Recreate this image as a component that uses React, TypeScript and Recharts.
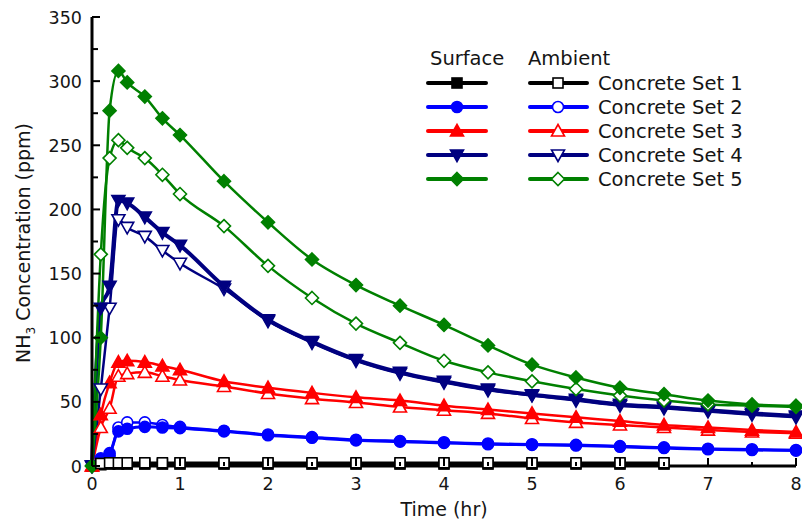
import React from "react";
import { LineChart, Line, XAxis, YAxis } from "recharts";

if (typeof document !== "undefined") document.body.style.margin = "0";

// sampling times (hr)
const time = [0, 0.1, 0.2, 0.3, 0.4, 0.6, 0.8, 1, 1.5, 2, 2.5, 3, 3.5, 4, 4.5, 5, 5.5, 6, 6.5, 7, 7.5, 8];

// NH3 ppm, surface (filled) and ambient (open)
const set1Surface = [0, 1, 1.5, 1.5, 1.5, 1.5, 1.5, 1.5, 1.5, 1.5, 1.5, 1.5, 1.5, 1.5, 1.5, 1.5, 1.5, 1.5, 1.5, null, null, null];
const set1Ambient = [null, 2, 2.5, 2.5, 2.5, 2.5, 2.5, 2.5, 2.5, 2.5, 2.5, 2.5, 2.5, 2.5, 2.5, 2.5, 2.5, 2.5, 2.5, null, null, null];
const set2Surface = [0, 6, 10, 27, 29, 30.5, 30, 29.5, 27, 24, 22, 20, 19, 18, 17, 16.5, 16, 15, 14, 13, 12.5, 12];
const set2Ambient = [0, 3, 8, 30, 34, 34, 32, 30.5, 27.5, 24.5, 22.5, 20.5, 19.5, 18.5, 17.5, 17, 16.5, 15.5, 14.5, 13.5, 13, 12.5];
const set3Surface = [0, 40, 65, 81, 82, 81, 78, 75, 66, 61, 57, 53.5, 51, 47, 44, 41, 38, 35, 32, 30, 28, 26.5];
const set3Ambient = [0, 30, 45, 70, 72, 73, 70, 67, 62, 56.5, 52.5, 49.5, 46, 43.5, 41, 37, 34, 32, 30, 28, 26.5, 25.5];
const set4Surface = [0, 123, 140, 207, 205, 194, 182, 172, 140, 114, 97, 83, 73, 66, 60, 55.5, 52, 48, 46, 43.5, 41, 39];
const set4Ambient = [0, 60, 123, 192, 186, 179, 168, 158, 138, 113, 96, 82, 72, 65, 59, 55, 51, 47, 45, 42.5, 40, 38];
const set5Surface = [0, 100, 277, 308, 299, 288, 271, 258, 222, 190, 161, 141, 125, 110, 94, 79, 69, 61, 56, 51, 48, 47];
const set5Ambient = [0, 165, 240, 254, 248, 240, 227, 212, 187, 156, 131, 111, 96, 82, 73, 66, 60, 55, 51, 48, 47, 46];

const xTicks = [0, 0.5, 1, 1.5, 2, 2.5, 3, 3.5, 4, 4.5, 5, 5.5, 6, 6.5, 7, 7.5, 8];
const yTicks = [0, 25, 50, 75, 100, 125, 150, 175, 200, 225, 250, 275, 300, 325, 350];
const setNames = ["Concrete Set 1", "Concrete Set 2", "Concrete Set 3", "Concrete Set 4", "Concrete Set 5"];

const data = time.map((t, i) => ({
  t,
  s1: set1Surface[i], a1: set1Ambient[i],
  s2: set2Surface[i], a2: set2Ambient[i],
  s3: set3Surface[i], a3: set3Ambient[i],
  s4: set4Surface[i], a4: set4Ambient[i],
  s5: set5Surface[i], a5: set5Ambient[i],
}));

type Shape = "square" | "circle" | "up" | "down" | "diamond";

const sets: { color: string; shape: Shape; width: number }[] = [
  { color: "#000000", shape: "square", width: 3 },
  { color: "#0000ff", shape: "circle", width: 3 },
  { color: "#ff0000", shape: "up", width: 2.5 },
  { color: "#000080", shape: "down", width: 4 },
  { color: "#008000", shape: "diamond", width: 2.5 },
];

const FONT = "'DejaVu Sans', Arial, sans-serif";
const TEXT = "#151515";

function Marker({ cx, cy, shape, color, filled }: { cx: number; cy: number; shape: Shape; color: string; filled: boolean }) {
  const fill = filled ? color : "#ffffff";
  const sw = 1.6;
  if (shape === "square") return <rect x={cx - 5} y={cy - 5} width={10} height={10} fill={fill} stroke={color} strokeWidth={sw} />;
  if (shape === "circle") return <circle cx={cx} cy={cy} r={5.5} fill={fill} stroke={color} strokeWidth={sw} />;
  if (shape === "up")
    return <polygon points={`${cx},${cy - 6.5} ${cx + 6.5},${cy + 5} ${cx - 6.5},${cy + 5}`} fill={fill} stroke={color} strokeWidth={sw} />;
  if (shape === "down")
    return <polygon points={`${cx},${cy + 6.5} ${cx + 6.5},${cy - 5} ${cx - 6.5},${cy - 5}`} fill={fill} stroke={color} strokeWidth={sw} />;
  return <polygon points={`${cx},${cy - 6.5} ${cx + 6.5},${cy} ${cx},${cy + 6.5} ${cx - 6.5},${cy}`} fill={fill} stroke={color} strokeWidth={sw} />;
}

const makeDot = (shape: Shape, color: string, filled: boolean) => (p: any) => {
  if (p.cy == null || p.value == null || (Array.isArray(p.value) && p.value[1] == null)) return <g key={p.index} />;
  return (
    <g key={p.index}>
      <Marker cx={p.cx} cy={p.cy} shape={shape} color={color} filled={filled} />
    </g>
  );
};

// custom ticks: inward tick marks
const BottomTick = (p: any) => {
  const v = p.payload.value;
  const major = Number.isInteger(v);
  const axisY = p.y - 10;
  return (
    <g>
      <line x1={p.x} x2={p.x} y1={axisY} y2={axisY - (major ? 8 : 4)} stroke="#000" strokeWidth={2} />
      {major && (
        <text x={p.x} y={axisY + 24} textAnchor="middle" fontSize={17.5} fontFamily={FONT} fill={TEXT}>
          {v}
        </text>
      )}
    </g>
  );
};

const TopTick = (p: any) => {
  const major = Number.isInteger(p.payload.value);
  return <line x1={p.x} x2={p.x} y1={p.y} y2={p.y + (major ? 8 : 4)} stroke="#000" strokeWidth={2} />;
};

const LeftTick = (p: any) => {
  const v = p.payload.value;
  const major = v % 50 === 0;
  const axisX = p.x + 10;
  return (
    <g>
      <line x1={axisX} x2={axisX + (major ? 8 : 6)} y1={p.y} y2={p.y} stroke="#000" strokeWidth={2} />
      {major && (
        <text x={axisX - 10} y={p.y + 6.5} textAnchor="end" fontSize={17.5} fontFamily={FONT} fill={TEXT}>
          {v}
        </text>
      )}
    </g>
  );
};

const RightTick = (p: any) => {
  const major = p.payload.value % 50 === 0;
  return <line x1={p.x} x2={p.x - (major ? 8 : 6)} y1={p.y} y2={p.y} stroke="#000" strokeWidth={2} />;
};

function LegendBox() {
  const rows = [83, 107, 131, 155, 179];
  return (
    <svg width={802} height={523} style={{ position: "absolute", left: 0, top: 0, pointerEvents: "none" }}>
      <text x={430} y={65} fontSize={19.5} fontFamily={FONT} fill={TEXT}>Surface</text>
      <text x={528} y={65} fontSize={19.5} fontFamily={FONT} fill={TEXT}>Ambient</text>
      {sets.map((s, i) => (
        <g key={i}>
          <line x1={428} x2={486} y1={rows[i]} y2={rows[i]} stroke={s.color} strokeWidth={4} strokeLinecap="round" />
          <Marker cx={457} cy={rows[i]} shape={s.shape} color={s.color} filled />
          <line x1={530} x2={587} y1={rows[i]} y2={rows[i]} stroke={s.color} strokeWidth={4} strokeLinecap="round" />
          <Marker cx={558} cy={rows[i]} shape={s.shape} color={s.color} filled={false} />
          <text x={598} y={rows[i] + 7} fontSize={19.5} fontFamily={FONT} fill={TEXT}>{setNames[i]}</text>
        </g>
      ))}
      <text x={444} y={516} textAnchor="middle" fontSize={19} fontFamily={FONT} fill={TEXT}>Time (hr)</text>
      <text x={30} y={243} textAnchor="middle" fontSize={19} fontFamily={FONT} fill={TEXT} transform="rotate(-90 30 243)">
        NH<tspan fontSize={12} dy={5}>3</tspan>
        <tspan dy={-5}> Concentration (ppm)</tspan>
      </text>
    </svg>
  );
}

export default function App() {
  const series: { key: string; set: number; filled: boolean }[] = [
    { key: "s1", set: 0, filled: true },
    { key: "a2", set: 1, filled: false },
    { key: "s2", set: 1, filled: true },
    { key: "a3", set: 2, filled: false },
    { key: "s3", set: 2, filled: true },
    { key: "a4", set: 3, filled: false },
    { key: "s4", set: 3, filled: true },
    { key: "a5", set: 4, filled: false },
    { key: "s5", set: 4, filled: true },
    { key: "a1", set: 0, filled: false },
  ];

  return (
    <div style={{ position: "relative", width: 802, height: 523, background: "#fff" }}>
      <LineChart width={802} height={523} data={data} margin={{ top: 17, right: 6, bottom: 27, left: 32 }}>
        <XAxis
          dataKey="t"
          type="number"
          domain={[0, 8]}
          ticks={xTicks}
          interval={0}
          height={30}
          tickSize={0}
          tickMargin={10}
          tickLine={false}
          axisLine={{ stroke: "#000", strokeWidth: 3 }}
          tick={BottomTick}
        />
        <XAxis
          xAxisId="top"
          orientation="top"
          type="number"
          domain={[0, 8]}
          ticks={xTicks}
          interval={0}
          height={0}
          tickSize={0}
          tickMargin={0}
          tickLine={false}
          axisLine={{ stroke: "#000", strokeWidth: 3 }}
          tick={TopTick}
        />
        <YAxis
          type="number"
          domain={[0, 350]}
          ticks={yTicks}
          interval={0}
          width={60}
          tickSize={0}
          tickMargin={10}
          tickLine={false}
          axisLine={{ stroke: "#000", strokeWidth: 3 }}
          tick={LeftTick}
        />
        <YAxis
          yAxisId="right"
          orientation="right"
          type="number"
          domain={[0, 350]}
          ticks={yTicks}
          interval={0}
          width={0}
          tickSize={0}
          tickMargin={0}
          tickLine={false}
          axisLine={{ stroke: "#000", strokeWidth: 3 }}
          tick={RightTick}
        />
        {series.map((s) => {
          const st = sets[s.set];
          return (
            <Line
              key={s.key}
              dataKey={s.key}
              type="monotone"
              stroke={st.color}
              strokeWidth={s.filled ? st.width : 2.5}
              dot={makeDot(st.shape, st.color, s.filled)}
              activeDot={false}
              connectNulls={false}
              isAnimationActive={false}
            />
          );
        })}
      </LineChart>
      <LegendBox />
    </div>
  );
}
